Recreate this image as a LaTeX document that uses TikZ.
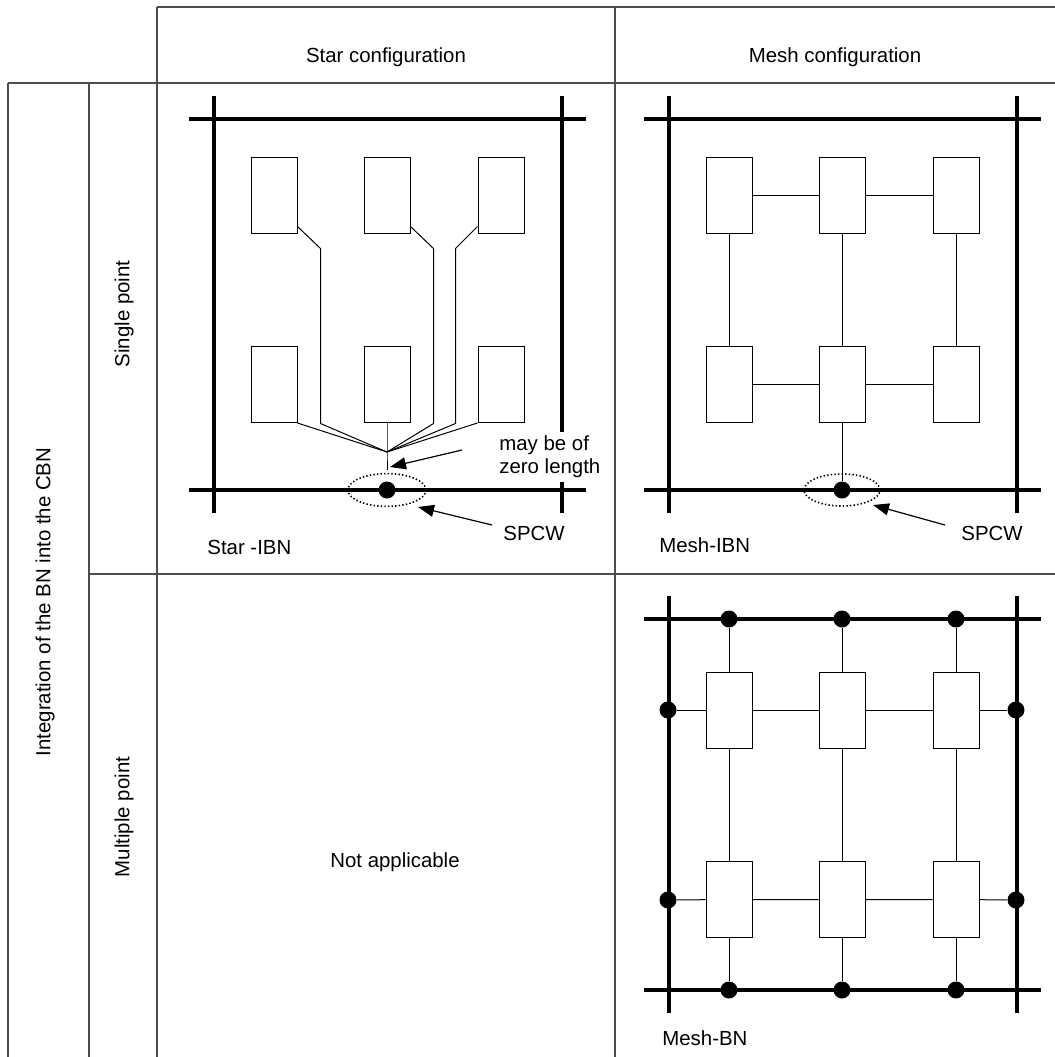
\documentclass[tikz,border=0pt]{standalone}
\usepackage{fontspec}
\setmainfont{Liberation Sans}
\usetikzlibrary{arrows.meta,positioning}
\tikzset{unit/.style={draw,line width=0.5pt,fill=white,minimum width=23pt,minimum height=38pt,inner sep=0pt},bus/.style={line width=2pt},link/.style={line width=0.5pt},grid/.style={draw=black!70,line width=0.65pt},spot/.style={circle,fill=black,inner sep=0pt,minimum size=8.5pt},zone/.style={line width=0.8pt,dash pattern=on 0.7pt off 1.1pt},ptr/.style={-{Triangle[length=8pt,width=6pt]},line width=0.6pt},lbl/.style={font=\fontsize{10.2}{11.7}\selectfont,inner sep=0pt}}

\begin{document}
\begin{tikzpicture}[x=0.5pt,y=-0.5pt]
\useasboundingbox (0,0) rectangle (1055,1057);
\draw[grid] (157,7) -- (1055,7);\draw[grid] (8,83) -- (1055,83);\draw[grid] (89,574) -- (1055,574);
\draw[grid] (8,83) -- (8,1057);\draw[grid] (89,83) -- (89,1057);\draw[grid] (157,7) -- (157,1057);\draw[grid] (615,7) -- (615,1057);
\node[lbl] (hstar) at (386,57) {Star configuration};
\node[lbl] (hmesh) at (835,57) {Mesh configuration};
\node[lbl,rotate=90] (integ) at (45,602) {Integration of the BN into the CBN};
\node[lbl,rotate=90] (single) at (124,314) {Single point};
\node[lbl,rotate=90] (multi) at (124,817) {Multiple point};
\node[lbl] (na) at (395,862) {Not applicable};
\foreach \dx/\dy in {0/0,455/0,455/500}{\draw[bus] (189+\dx,119+\dy) -- (586+\dx,119+\dy);\draw[bus] (189+\dx,490+\dy) -- (586+\dx,490+\dy);\draw[bus] (214+\dx,96+\dy) -- (214+\dx,513+\dy);\draw[bus] (562+\dx,96+\dy) -- (562+\dx,513+\dy);}
\foreach \i/\x in {1/274,2/387,3/501}{\node[unit] (s\i) at (\x,195) {};\node[unit] (m\i) at (\x+455,195) {};\node[unit] (b\i) at (\x+455,710) {};}
\foreach \i/\x in {4/274,5/387,6/501}{\node[unit] (s\i) at (\x,384.5) {};\node[unit] (m\i) at (\x+455,384.5) {};\node[unit] (b\i) at (\x+455,899.5) {};}
\coordinate (hub) at (387,452);\coordinate (hubend) at (387,470);
\node[spot] (sdot) at (387,490) {};
\draw[link] ([shift={(0,-7)}]s1.south east) -- ++(23,22) -- ++(0,175) -- (hub);
\draw[link] ([shift={(0,-7)}]s2.south east) -- ++(23,22) -- ++(0,175) -- (hub);
\draw[link] ([shift={(0,-7)}]s3.south west) -- ++(-22,22) -- ++(0,175) -- (hub);
\draw[link] (s4.south east) -- (hub);\draw[link] (s6.south west) -- (hub);\draw[link] (s5.south) -- (hub) -- (hubend);
\draw[zone] (sdot) ellipse [x radius=19.5pt,y radius=8.2pt];
\node[lbl,anchor=west,align=left,fill=white,inner xsep=0pt,inner ysep=2pt] (zero) at (499,457) {may be of\\zero length};
\coordinate (zerotail) at (462,450);\coordinate (zerotip) at (390,467);
\draw[ptr] (zerotail) -- (zerotip);
\node[lbl,anchor=west] (spcwa) at (503,533) {SPCW};
\coordinate (spcwatail) at (492,525);\coordinate (spcwatip) at (418,507);
\draw[ptr] (spcwatail) -- (spcwatip);
\node[lbl,anchor=west] (starlbl) at (207,547) {Star -IBN};
\node[spot] (mdot) at (842,490) {};
\draw[link] (m1) -- (m2) -- (m3);\draw[link] (m4) -- (m5) -- (m6);
\draw[link] (m1) -- (m4);\draw[link] (m2) -- (m5);\draw[link] (m3) -- (m6);\draw[link] (m5) -- (mdot);
\draw[zone] (mdot) ellipse [x radius=19pt,y radius=8pt];
\node[lbl,anchor=west] (spcwb) at (961,533) {SPCW};
\coordinate (spcwbtail) at (945,525);\coordinate (spcwbtip) at (873,505);
\draw[ptr] (spcwbtail) -- (spcwbtip);
\node[lbl,anchor=west] (meshlbl) at (659,545) {Mesh-IBN};
\foreach \i/\x in {1/729,2/842,3/956}{\node[spot] (bt\i) at (\x,619) {};\node[spot] (bb\i) at (\x,990) {};}
\foreach \i/\y in {1/710,2/900}{\node[spot] (bl\i) at (668,\y) {};\node[spot] (br\i) at (1016,\y) {};}
\draw[link] (bl1) -- (b1) -- (b2) -- (b3) -- (br1);\draw[link] (bl2) -- (b4) -- (b5) -- (b6) -- (br2);
\draw[link] (bt1) -- (b1) -- (b4) -- (bb1);\draw[link] (bt2) -- (b2) -- (b5) -- (bb2);\draw[link] (bt3) -- (b3) -- (b6) -- (bb3);
\node[lbl,anchor=west] (bnlbl) at (662,1038) {Mesh-BN};
\end{tikzpicture}
\end{document}
